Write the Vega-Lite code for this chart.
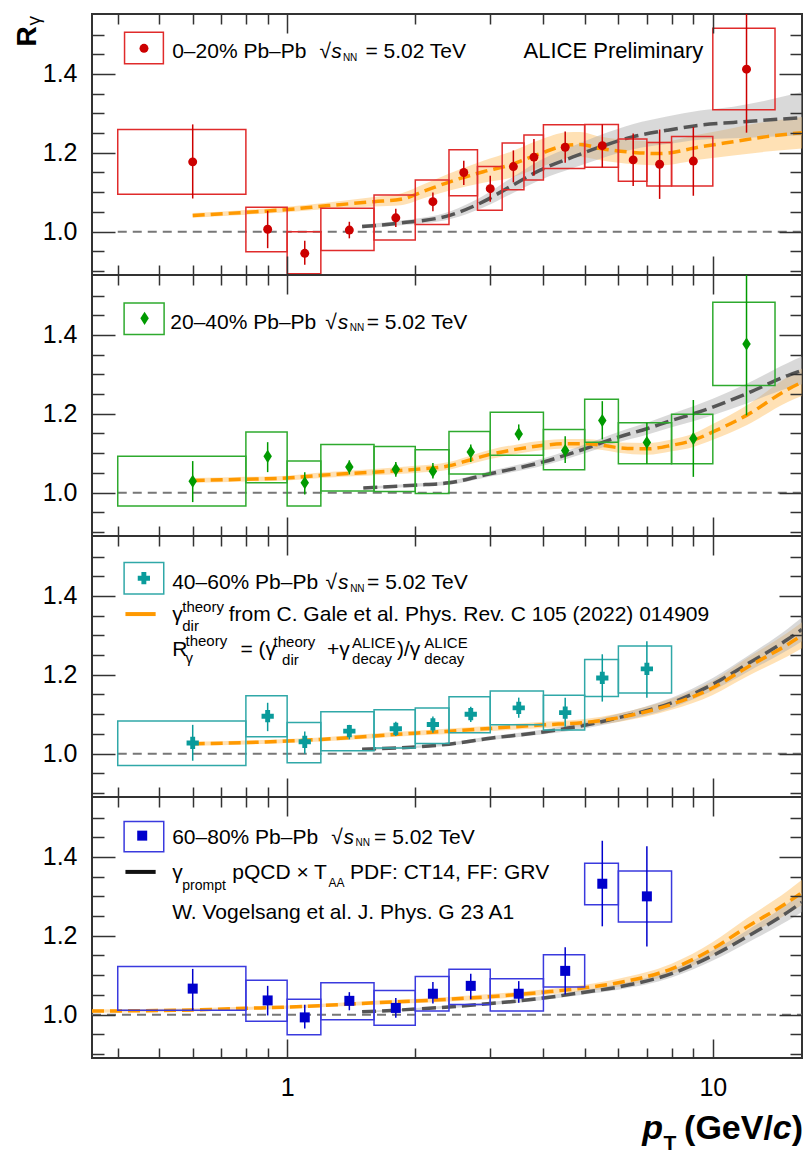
{
"$schema":"https://vega.github.io/schema/vega-lite/v6.json",
"padding":{"left":12,"top":12,"right":5,"bottom":5},
"background":"white",
"config":{"font":"Liberation Sans","view":{"stroke":"#333333","strokeWidth":2},"axis":{"tickColor":"#333333","tickWidth":1.5,"labelColor":"#000000","labelFont":"Liberation Sans","labelFontSize":25,"minExtent":0},"text":{"font":"Liberation Sans","color":"#000000"}},
"datasets":{
"meas":[
{"p":1,"pt":0.6,"y":1.177,"elo":1.084,"ehi":1.272,"xlo":0.4,"xhi":0.8,"blo":1.095,"bhi":1.259},
{"p":1,"pt":0.9,"y":1.006,"elo":0.958,"ehi":1.053,"xlo":0.8,"xhi":1.0,"blo":0.949,"bhi":1.062},
{"p":1,"pt":1.1,"y":0.945,"elo":0.916,"ehi":0.977,"xlo":1.0,"xhi":1.2,"blo":0.893,"bhi":1.0},
{"p":1,"pt":1.4,"y":1.004,"elo":0.983,"ehi":1.025,"xlo":1.2,"xhi":1.6,"blo":0.952,"bhi":1.059},
{"p":1,"pt":1.8,"y":1.035,"elo":1.012,"ehi":1.058,"xlo":1.6,"xhi":2.0,"blo":0.979,"bhi":1.093},
{"p":1,"pt":2.2,"y":1.076,"elo":1.052,"ehi":1.099,"xlo":2.0,"xhi":2.4,"blo":1.018,"bhi":1.131},
{"p":1,"pt":2.6,"y":1.150,"elo":1.118,"ehi":1.180,"xlo":2.4,"xhi":2.8,"blo":1.091,"bhi":1.208},
{"p":1,"pt":3.0,"y":1.109,"elo":1.076,"ehi":1.142,"xlo":2.8,"xhi":3.2,"blo":1.054,"bhi":1.165},
{"p":1,"pt":3.4,"y":1.165,"elo":1.125,"ehi":1.206,"xlo":3.2,"xhi":3.6,"blo":1.106,"bhi":1.225},
{"p":1,"pt":3.8,"y":1.189,"elo":1.142,"ehi":1.235,"xlo":3.6,"xhi":4.0,"blo":1.131,"bhi":1.245},
{"p":1,"pt":4.5,"y":1.214,"elo":1.175,"ehi":1.254,"xlo":4.0,"xhi":5.0,"blo":1.160,"bhi":1.271},
{"p":1,"pt":5.5,"y":1.218,"elo":1.163,"ehi":1.272,"xlo":5.0,"xhi":6.0,"blo":1.163,"bhi":1.272},
{"p":1,"pt":6.5,"y":1.182,"elo":1.116,"ehi":1.249,"xlo":6.0,"xhi":7.0,"blo":1.128,"bhi":1.235},
{"p":1,"pt":7.5,"y":1.171,"elo":1.083,"ehi":1.259,"xlo":7.0,"xhi":8.0,"blo":1.116,"bhi":1.226},
{"p":1,"pt":9.0,"y":1.179,"elo":1.091,"ehi":1.265,"xlo":8.0,"xhi":10,"blo":1.116,"bhi":1.241},
{"p":1,"pt":12,"y":1.412,"elo":1.251,"ehi":1.6,"xlo":10,"xhi":14,"blo":1.309,"bhi":1.516},
{"p":2,"pt":0.6,"y":1.029,"elo":0.976,"ehi":1.080,"xlo":0.4,"xhi":0.8,"blo":0.966,"bhi":1.092},
{"p":2,"pt":0.9,"y":1.092,"elo":1.052,"ehi":1.128,"xlo":0.8,"xhi":1.0,"blo":1.025,"bhi":1.154},
{"p":2,"pt":1.1,"y":1.025,"elo":0.995,"ehi":1.052,"xlo":1.0,"xhi":1.2,"blo":0.966,"bhi":1.080},
{"p":2,"pt":1.4,"y":1.065,"elo":1.046,"ehi":1.082,"xlo":1.2,"xhi":1.6,"blo":1.004,"bhi":1.122},
{"p":2,"pt":1.8,"y":1.059,"elo":1.040,"ehi":1.078,"xlo":1.6,"xhi":2.0,"blo":1.003,"bhi":1.117},
{"p":2,"pt":2.2,"y":1.054,"elo":1.036,"ehi":1.075,"xlo":2.0,"xhi":2.4,"blo":0.998,"bhi":1.109},
{"p":2,"pt":2.7,"y":1.103,"elo":1.078,"ehi":1.122,"xlo":2.4,"xhi":3.0,"blo":1.047,"bhi":1.155},
{"p":2,"pt":3.5,"y":1.149,"elo":1.133,"ehi":1.173,"xlo":3.0,"xhi":4.0,"blo":1.095,"bhi":1.204},
{"p":2,"pt":4.5,"y":1.107,"elo":1.075,"ehi":1.143,"xlo":4.0,"xhi":5.0,"blo":1.058,"bhi":1.160},
{"p":2,"pt":5.5,"y":1.183,"elo":1.135,"ehi":1.232,"xlo":5.0,"xhi":6.0,"blo":1.128,"bhi":1.237},
{"p":2,"pt":7.0,"y":1.127,"elo":1.073,"ehi":1.177,"xlo":6.0,"xhi":8.0,"blo":1.073,"bhi":1.177},
{"p":2,"pt":9.0,"y":1.137,"elo":1.040,"ehi":1.235,"xlo":8.0,"xhi":10,"blo":1.073,"bhi":1.199},
{"p":2,"pt":12,"y":1.377,"elo":1.196,"ehi":1.6,"xlo":10,"xhi":14,"blo":1.272,"bhi":1.483},
{"p":3,"pt":0.6,"y":1.027,"elo":0.982,"ehi":1.073,"xlo":0.4,"xhi":0.8,"blo":0.970,"bhi":1.083},
{"p":3,"pt":0.9,"y":1.095,"elo":1.057,"ehi":1.129,"xlo":0.8,"xhi":1.0,"blo":1.043,"bhi":1.147},
{"p":3,"pt":1.1,"y":1.030,"elo":1.000,"ehi":1.056,"xlo":1.0,"xhi":1.2,"blo":0.977,"bhi":1.079},
{"p":3,"pt":1.4,"y":1.057,"elo":1.036,"ehi":1.073,"xlo":1.2,"xhi":1.6,"blo":1.007,"bhi":1.106},
{"p":3,"pt":1.8,"y":1.063,"elo":1.045,"ehi":1.081,"xlo":1.6,"xhi":2.0,"blo":1.014,"bhi":1.111},
{"p":3,"pt":2.2,"y":1.074,"elo":1.053,"ehi":1.094,"xlo":2.0,"xhi":2.4,"blo":1.026,"bhi":1.116},
{"p":3,"pt":2.7,"y":1.100,"elo":1.080,"ehi":1.119,"xlo":2.4,"xhi":3.0,"blo":1.053,"bhi":1.144},
{"p":3,"pt":3.5,"y":1.116,"elo":1.091,"ehi":1.142,"xlo":3.0,"xhi":4.0,"blo":1.073,"bhi":1.159},
{"p":3,"pt":4.5,"y":1.104,"elo":1.068,"ehi":1.142,"xlo":4.0,"xhi":5.0,"blo":1.060,"bhi":1.148},
{"p":3,"pt":5.5,"y":1.192,"elo":1.132,"ehi":1.252,"xlo":5.0,"xhi":6.0,"blo":1.145,"bhi":1.239},
{"p":3,"pt":7.0,"y":1.215,"elo":1.142,"ehi":1.285,"xlo":6.0,"xhi":8.0,"blo":1.154,"bhi":1.273},
{"p":4,"pt":0.6,"y":1.066,"elo":1.011,"ehi":1.116,"xlo":0.4,"xhi":0.8,"blo":1.011,"bhi":1.122},
{"p":4,"pt":0.9,"y":1.036,"elo":0.998,"ehi":1.073,"xlo":0.8,"xhi":1.0,"blo":0.983,"bhi":1.087},
{"p":4,"pt":1.1,"y":0.993,"elo":0.965,"ehi":1.025,"xlo":1.0,"xhi":1.2,"blo":0.949,"bhi":1.039},
{"p":4,"pt":1.4,"y":1.035,"elo":1.011,"ehi":1.057,"xlo":1.2,"xhi":1.6,"blo":0.987,"bhi":1.081},
{"p":4,"pt":1.8,"y":1.017,"elo":0.992,"ehi":1.042,"xlo":1.6,"xhi":2.0,"blo":0.973,"bhi":1.061},
{"p":4,"pt":2.2,"y":1.053,"elo":1.028,"ehi":1.083,"xlo":2.0,"xhi":2.4,"blo":1.009,"bhi":1.097},
{"p":4,"pt":2.7,"y":1.073,"elo":1.039,"ehi":1.104,"xlo":2.4,"xhi":3.0,"blo":1.026,"bhi":1.115},
{"p":4,"pt":3.5,"y":1.053,"elo":1.030,"ehi":1.085,"xlo":3.0,"xhi":4.0,"blo":1.009,"bhi":1.091},
{"p":4,"pt":4.5,"y":1.111,"elo":1.051,"ehi":1.171,"xlo":4.0,"xhi":5.0,"blo":1.070,"bhi":1.152},
{"p":4,"pt":5.5,"y":1.332,"elo":1.224,"ehi":1.441,"xlo":5.0,"xhi":6.0,"blo":1.279,"bhi":1.384},
{"p":4,"pt":7.0,"y":1.300,"elo":1.173,"ehi":1.427,"xlo":6.0,"xhi":8.0,"blo":1.235,"bhi":1.364}
],
"theo":[
{"p":1,"m":"g","pt":0.6,"y":1.041,"lo":1.035,"hi":1.047},
{"p":1,"m":"g","pt":0.8,"y":1.049,"lo":1.043,"hi":1.055},
{"p":1,"m":"g","pt":1.0,"y":1.056,"lo":1.049,"hi":1.063},
{"p":1,"m":"g","pt":1.25,"y":1.066,"lo":1.058,"hi":1.074},
{"p":1,"m":"g","pt":1.6,"y":1.076,"lo":1.064,"hi":1.088},
{"p":1,"m":"g","pt":1.85,"y":1.082,"lo":1.067,"hi":1.097},
{"p":1,"m":"g","pt":2.1,"y":1.103,"lo":1.085,"hi":1.121},
{"p":1,"m":"g","pt":2.42,"y":1.127,"lo":1.105,"hi":1.149},
{"p":1,"m":"g","pt":2.89,"y":1.152,"lo":1.124,"hi":1.180},
{"p":1,"m":"g","pt":3.34,"y":1.169,"lo":1.136,"hi":1.202},
{"p":1,"m":"g","pt":3.93,"y":1.198,"lo":1.163,"hi":1.233},
{"p":1,"m":"g","pt":4.54,"y":1.219,"lo":1.186,"hi":1.252},
{"p":1,"m":"g","pt":4.88,"y":1.221,"lo":1.189,"hi":1.253},
{"p":1,"m":"g","pt":5.44,"y":1.211,"lo":1.181,"hi":1.241},
{"p":1,"m":"g","pt":6.51,"y":1.201,"lo":1.171,"hi":1.231},
{"p":1,"m":"g","pt":7.52,"y":1.198,"lo":1.168,"hi":1.228},
{"p":1,"m":"g","pt":9.34,"y":1.215,"lo":1.183,"hi":1.247},
{"p":1,"m":"g","pt":11.17,"y":1.228,"lo":1.193,"hi":1.263},
{"p":1,"m":"g","pt":13.39,"y":1.241,"lo":1.203,"hi":1.279},
{"p":1,"m":"g","pt":16.2,"y":1.251,"lo":1.211,"hi":1.291},
{"p":1,"m":"v","pt":1.5,"y":1.013,"lo":1.008,"hi":1.018},
{"p":1,"m":"v","pt":1.85,"y":1.022,"lo":1.016,"hi":1.028},
{"p":1,"m":"v","pt":2.42,"y":1.042,"lo":1.032,"hi":1.052},
{"p":1,"m":"v","pt":2.89,"y":1.076,"lo":1.061,"hi":1.091},
{"p":1,"m":"v","pt":3.34,"y":1.114,"lo":1.094,"hi":1.134},
{"p":1,"m":"v","pt":3.93,"y":1.156,"lo":1.131,"hi":1.181},
{"p":1,"m":"v","pt":4.71,"y":1.190,"lo":1.162,"hi":1.218},
{"p":1,"m":"v","pt":5.44,"y":1.215,"lo":1.185,"hi":1.245},
{"p":1,"m":"v","pt":6.51,"y":1.241,"lo":1.209,"hi":1.273},
{"p":1,"m":"v","pt":7.8,"y":1.257,"lo":1.222,"hi":1.292},
{"p":1,"m":"v","pt":9.34,"y":1.270,"lo":1.233,"hi":1.307},
{"p":1,"m":"v","pt":11.17,"y":1.277,"lo":1.237,"hi":1.317},
{"p":1,"m":"v","pt":16.2,"y":1.289,"lo":1.244,"hi":1.354},
{"p":2,"m":"g","pt":0.6,"y":1.031,"lo":1.025,"hi":1.037},
{"p":2,"m":"g","pt":0.8,"y":1.034,"lo":1.028,"hi":1.040},
{"p":2,"m":"g","pt":1.0,"y":1.037,"lo":1.031,"hi":1.043},
{"p":2,"m":"g","pt":1.2,"y":1.044,"lo":1.037,"hi":1.051},
{"p":2,"m":"g","pt":1.6,"y":1.052,"lo":1.044,"hi":1.060},
{"p":2,"m":"g","pt":2.0,"y":1.059,"lo":1.050,"hi":1.068},
{"p":2,"m":"g","pt":2.4,"y":1.068,"lo":1.058,"hi":1.078},
{"p":2,"m":"g","pt":2.75,"y":1.086,"lo":1.075,"hi":1.097},
{"p":2,"m":"g","pt":3.0,"y":1.097,"lo":1.085,"hi":1.109},
{"p":2,"m":"g","pt":3.5,"y":1.111,"lo":1.099,"hi":1.123},
{"p":2,"m":"g","pt":4.0,"y":1.120,"lo":1.108,"hi":1.132},
{"p":2,"m":"g","pt":4.5,"y":1.124,"lo":1.112,"hi":1.136},
{"p":2,"m":"g","pt":5.0,"y":1.124,"lo":1.112,"hi":1.136},
{"p":2,"m":"g","pt":5.5,"y":1.120,"lo":1.108,"hi":1.132},
{"p":2,"m":"g","pt":6.0,"y":1.114,"lo":1.101,"hi":1.127},
{"p":2,"m":"g","pt":7.0,"y":1.111,"lo":1.096,"hi":1.126},
{"p":2,"m":"g","pt":8.0,"y":1.120,"lo":1.105,"hi":1.135},
{"p":2,"m":"g","pt":9.0,"y":1.133,"lo":1.116,"hi":1.150},
{"p":2,"m":"g","pt":10,"y":1.154,"lo":1.134,"hi":1.174},
{"p":2,"m":"g","pt":12,"y":1.196,"lo":1.171,"hi":1.221},
{"p":2,"m":"g","pt":15,"y":1.262,"lo":1.230,"hi":1.294},
{"p":2,"m":"g","pt":16.2,"y":1.280,"lo":1.245,"hi":1.315},
{"p":2,"m":"v","pt":1.51,"y":1.012,"lo":1.009,"hi":1.015},
{"p":2,"m":"v","pt":2.0,"y":1.019,"lo":1.015,"hi":1.023},
{"p":2,"m":"v","pt":2.4,"y":1.025,"lo":1.020,"hi":1.030},
{"p":2,"m":"v","pt":3.0,"y":1.048,"lo":1.041,"hi":1.055},
{"p":2,"m":"v","pt":4.0,"y":1.078,"lo":1.069,"hi":1.087},
{"p":2,"m":"v","pt":5.0,"y":1.111,"lo":1.100,"hi":1.122},
{"p":2,"m":"v","pt":6.0,"y":1.141,"lo":1.128,"hi":1.154},
{"p":2,"m":"v","pt":7.0,"y":1.162,"lo":1.147,"hi":1.177},
{"p":2,"m":"v","pt":8.0,"y":1.183,"lo":1.166,"hi":1.200},
{"p":2,"m":"v","pt":9.0,"y":1.200,"lo":1.181,"hi":1.219},
{"p":2,"m":"v","pt":10,"y":1.217,"lo":1.196,"hi":1.238},
{"p":2,"m":"v","pt":12,"y":1.251,"lo":1.226,"hi":1.276},
{"p":2,"m":"v","pt":15,"y":1.297,"lo":1.265,"hi":1.329},
{"p":2,"m":"v","pt":16.2,"y":1.310,"lo":1.275,"hi":1.345},
{"p":3,"m":"g","pt":0.6,"y":1.025,"lo":1.020,"hi":1.030},
{"p":3,"m":"g","pt":0.8,"y":1.028,"lo":1.023,"hi":1.033},
{"p":3,"m":"g","pt":1.0,"y":1.032,"lo":1.027,"hi":1.037},
{"p":3,"m":"g","pt":1.2,"y":1.036,"lo":1.031,"hi":1.041},
{"p":3,"m":"g","pt":1.6,"y":1.045,"lo":1.039,"hi":1.051},
{"p":3,"m":"g","pt":2.0,"y":1.052,"lo":1.046,"hi":1.058},
{"p":3,"m":"g","pt":2.4,"y":1.057,"lo":1.050,"hi":1.064},
{"p":3,"m":"g","pt":3.0,"y":1.064,"lo":1.057,"hi":1.071},
{"p":3,"m":"g","pt":4.0,"y":1.073,"lo":1.065,"hi":1.081},
{"p":3,"m":"g","pt":5.0,"y":1.079,"lo":1.070,"hi":1.088},
{"p":3,"m":"g","pt":6.0,"y":1.091,"lo":1.080,"hi":1.102},
{"p":3,"m":"g","pt":8.0,"y":1.125,"lo":1.111,"hi":1.139},
{"p":3,"m":"g","pt":10,"y":1.167,"lo":1.149,"hi":1.185},
{"p":3,"m":"g","pt":12,"y":1.218,"lo":1.195,"hi":1.241},
{"p":3,"m":"g","pt":15,"y":1.277,"lo":1.247,"hi":1.307},
{"p":3,"m":"g","pt":16.2,"y":1.300,"lo":1.267,"hi":1.333},
{"p":3,"m":"v","pt":1.5,"y":1.011,"lo":1.008,"hi":1.014},
{"p":3,"m":"v","pt":2.0,"y":1.017,"lo":1.014,"hi":1.020},
{"p":3,"m":"v","pt":2.4,"y":1.024,"lo":1.020,"hi":1.028},
{"p":3,"m":"v","pt":3.0,"y":1.039,"lo":1.034,"hi":1.044},
{"p":3,"m":"v","pt":4.0,"y":1.055,"lo":1.049,"hi":1.061},
{"p":3,"m":"v","pt":5.0,"y":1.072,"lo":1.064,"hi":1.080},
{"p":3,"m":"v","pt":6.0,"y":1.091,"lo":1.081,"hi":1.101},
{"p":3,"m":"v","pt":8.0,"y":1.129,"lo":1.116,"hi":1.142},
{"p":3,"m":"v","pt":10,"y":1.176,"lo":1.160,"hi":1.192},
{"p":3,"m":"v","pt":12,"y":1.226,"lo":1.206,"hi":1.246},
{"p":3,"m":"v","pt":15,"y":1.290,"lo":1.263,"hi":1.317},
{"p":3,"m":"v","pt":16.2,"y":1.315,"lo":1.285,"hi":1.345},
{"p":4,"m":"g","pt":0.348,"y":1.009,"lo":1.005,"hi":1.013},
{"p":4,"m":"g","pt":0.6,"y":1.012,"lo":1.008,"hi":1.016},
{"p":4,"m":"g","pt":0.8,"y":1.016,"lo":1.012,"hi":1.020},
{"p":4,"m":"g","pt":1.0,"y":1.019,"lo":1.015,"hi":1.023},
{"p":4,"m":"g","pt":1.6,"y":1.030,"lo":1.025,"hi":1.035},
{"p":4,"m":"g","pt":2.4,"y":1.039,"lo":1.033,"hi":1.045},
{"p":4,"m":"g","pt":4.0,"y":1.057,"lo":1.050,"hi":1.064},
{"p":4,"m":"g","pt":5.0,"y":1.068,"lo":1.060,"hi":1.076},
{"p":4,"m":"g","pt":6.0,"y":1.081,"lo":1.071,"hi":1.091},
{"p":4,"m":"g","pt":8.0,"y":1.116,"lo":1.103,"hi":1.129},
{"p":4,"m":"g","pt":10,"y":1.167,"lo":1.150,"hi":1.184},
{"p":4,"m":"g","pt":12,"y":1.222,"lo":1.200,"hi":1.244},
{"p":4,"m":"g","pt":15,"y":1.285,"lo":1.256,"hi":1.314},
{"p":4,"m":"g","pt":16.2,"y":1.310,"lo":1.278,"hi":1.342},
{"p":4,"m":"v","pt":1.5,"y":1.007,"lo":1.005,"hi":1.009},
{"p":4,"m":"v","pt":2.0,"y":1.014,"lo":1.011,"hi":1.017},
{"p":4,"m":"v","pt":3.0,"y":1.028,"lo":1.024,"hi":1.032},
{"p":4,"m":"v","pt":4.0,"y":1.042,"lo":1.037,"hi":1.047},
{"p":4,"m":"v","pt":5.0,"y":1.057,"lo":1.051,"hi":1.063},
{"p":4,"m":"v","pt":6.0,"y":1.070,"lo":1.063,"hi":1.077},
{"p":4,"m":"v","pt":8.0,"y":1.104,"lo":1.094,"hi":1.114},
{"p":4,"m":"v","pt":10,"y":1.150,"lo":1.137,"hi":1.163},
{"p":4,"m":"v","pt":12,"y":1.197,"lo":1.181,"hi":1.213},
{"p":4,"m":"v","pt":15,"y":1.260,"lo":1.238,"hi":1.282},
{"p":4,"m":"v","pt":16.2,"y":1.285,"lo":1.260,"hi":1.310}
]
},
"spacing":0,
"bounds":"flush",
"vconcat":[
{"width":710,"height":261,"resolve":{"axis":{"x":"independent","y":"independent"}},
"layer":[
{"data":{"values":[{}]},"mark":{"type":"rule","color":"#777777","strokeWidth":2,"strokeDash":[9,6]},"encoding":{"x":{"datum":0.4,"type":"quantitative","scale":{"type":"log","domain":[0.348,16.2]},"axis":null},"x2":{"datum":16.2},"y":{"datum":1,"type":"quantitative","scale":{"domain":[0.89,1.552]},"axis":null}}},
{"data":{"name":"theo"},"transform":[{"filter":"datum.p==1 && datum.m=='g'"}],"mark":{"type":"area","color":"#ffbd5c","opacity":0.45,"interpolate":"monotone","clip":true},"encoding":{"x":{"field":"pt","type":"quantitative","scale":{"type":"log","domain":[0.348,16.2]},"axis":{"orient":"bottom","values":[1,10],"tickSize":-19,"labels":false,"domain":false,"grid":false,"title":null,"zindex":1}},"y":{"field":"lo","type":"quantitative","scale":{"domain":[0.89,1.552]},"axis":{"orient":"left","values":[1,1.2,1.4],"tickSize":-23,"labels":false,"domain":false,"grid":false,"title":null,"zindex":1}},"y2":{"field":"hi"}}},
{"data":{"name":"theo"},"transform":[{"filter":"datum.p==1 && datum.m=='v'"}],"mark":{"type":"area","color":"#aaaaaa","opacity":0.45,"interpolate":"monotone","clip":true},"encoding":{"x":{"field":"pt","type":"quantitative","scale":{"type":"log","domain":[0.348,16.2]},"axis":{"orient":"bottom","values":[0.4,0.5,0.6,0.7,0.8,0.9,2,3,4,5,6,7,8,9],"tickSize":-10,"labels":false,"domain":false,"grid":false,"title":null,"zindex":1}},"y":{"field":"lo","type":"quantitative","scale":{"domain":[0.89,1.552]},"axis":{"orient":"left","values":[0.9,0.95,1.05,1.1,1.15,1.25,1.3,1.35,1.45,1.5],"tickSize":-12,"labels":false,"domain":false,"grid":false,"title":null,"zindex":1}},"y2":{"field":"hi"}}},
{"data":{"name":"theo"},"transform":[{"filter":"datum.p==1 && datum.m=='v'"}],"mark":{"type":"line","color":"#555555","strokeWidth":3.5,"strokeDash":[14,6],"interpolate":"monotone","clip":true},"encoding":{"x":{"field":"pt","type":"quantitative","scale":{"type":"log","domain":[0.348,16.2]},"axis":{"orient":"top","values":[1,10],"tickSize":-19,"labels":false,"domain":false,"grid":false,"title":null,"zindex":1}},"y":{"field":"y","type":"quantitative","scale":{"domain":[0.89,1.552]},"axis":{"orient":"right","values":[1,1.2,1.4],"tickSize":-23,"labels":false,"domain":false,"grid":false,"title":null,"zindex":1}}}},
{"data":{"name":"theo"},"transform":[{"filter":"datum.p==1 && datum.m=='g'"}],"mark":{"type":"line","color":"#ff9900","strokeWidth":3.5,"strokeDash":[12,6],"interpolate":"monotone","clip":true},"encoding":{"x":{"field":"pt","type":"quantitative","scale":{"type":"log","domain":[0.348,16.2]},"axis":{"orient":"top","values":[0.4,0.5,0.6,0.7,0.8,0.9,2,3,4,5,6,7,8,9],"tickSize":-10,"labels":false,"domain":false,"grid":false,"title":null,"zindex":1}},"y":{"field":"y","type":"quantitative","scale":{"domain":[0.89,1.552]},"axis":{"orient":"right","values":[0.9,0.95,1.05,1.1,1.15,1.25,1.3,1.35,1.45,1.5],"tickSize":-12,"labels":false,"domain":false,"grid":false,"title":null,"zindex":1}}}},
{"data":{"name":"meas"},"transform":[{"filter":"datum.p==1"}],"mark":{"type":"rect","filled":false,"color":"#e02b2b","strokeWidth":1.5,"clip":true},"encoding":{"x":{"field":"xlo","type":"quantitative","scale":{"type":"log","domain":[0.348,16.2]},"axis":null},"x2":{"field":"xhi"},"y":{"field":"blo","type":"quantitative","scale":{"domain":[0.89,1.552]},"axis":{"orient":"left","values":[1,1.2,1.4],"ticks":false,"labels":true,"labelPadding":15,"format":".1f","domain":false,"grid":false,"title":null}},"y2":{"field":"bhi"}}},
{"data":{"name":"meas"},"transform":[{"filter":"datum.p==1"}],"mark":{"type":"rule","color":"#cc0000","strokeWidth":1.5,"clip":true},"encoding":{"x":{"field":"pt","type":"quantitative","scale":{"type":"log","domain":[0.348,16.2]},"axis":null},"y":{"field":"elo","type":"quantitative","scale":{"domain":[0.89,1.552]},"axis":null},"y2":{"field":"ehi"}}},
{"data":{"name":"meas"},"transform":[{"filter":"datum.p==1"}],"mark":{"type":"point","filled":true,"opacity":1,"shape":"circle","size":80,"color":"#cc0000"},"encoding":{"x":{"field":"pt","type":"quantitative","scale":{"type":"log","domain":[0.348,16.2]},"axis":null},"y":{"field":"y","type":"quantitative","scale":{"domain":[0.89,1.552]},"axis":null}}},
{"data":{"values":[{}]},"mark":{"type":"rect","filled":false,"color":"#e02b2b","strokeWidth":1.5},"encoding":{"x":{"datum":0.415,"type":"quantitative","scale":{"type":"log","domain":[0.348,16.2]},"axis":null},"x2":{"datum":0.512},"y":{"datum":1.426,"type":"quantitative","scale":{"domain":[0.89,1.552]},"axis":null},"y2":{"datum":1.506}}},
{"data":{"values":[{}]},"mark":{"type":"point","filled":true,"opacity":1,"shape":"circle","size":80,"color":"#cc0000"},"encoding":{"x":{"datum":0.461,"type":"quantitative","scale":{"type":"log","domain":[0.348,16.2]},"axis":null},"y":{"datum":1.465,"type":"quantitative","scale":{"domain":[0.89,1.552]},"axis":null}}},
{"data":{"values":[{}]},"mark":{"type":"text","text":"0–20% Pb–Pb","fontSize":21,"align":"left","baseline":"alphabetic"},"encoding":{"x":{"datum":0.537,"type":"quantitative","scale":{"type":"log","domain":[0.348,16.2]},"axis":null},"y":{"datum":1.44,"type":"quantitative","scale":{"domain":[0.89,1.552]},"axis":null}}},
{"data":{"values":[{}]},"mark":{"type":"text","text":"√","fontSize":21,"align":"left","baseline":"alphabetic"},"encoding":{"x":{"datum":1.191,"type":"quantitative","scale":{"type":"log","domain":[0.348,16.2]},"axis":null},"y":{"datum":1.44,"type":"quantitative","scale":{"domain":[0.89,1.552]},"axis":null}}},
{"data":{"values":[{}]},"mark":{"type":"text","text":"s","fontSize":21,"fontStyle":"italic","align":"left","baseline":"alphabetic"},"encoding":{"x":{"datum":1.27,"type":"quantitative","scale":{"type":"log","domain":[0.348,16.2]},"axis":null},"y":{"datum":1.44,"type":"quantitative","scale":{"domain":[0.89,1.552]},"axis":null}}},
{"data":{"values":[{}]},"mark":{"type":"text","text":"NN","fontSize":10,"align":"left","baseline":"alphabetic"},"encoding":{"x":{"datum":1.352,"type":"quantitative","scale":{"type":"log","domain":[0.348,16.2]},"axis":null},"y":{"datum":1.434,"type":"quantitative","scale":{"domain":[0.89,1.552]},"axis":null}}},
{"data":{"values":[{}]},"mark":{"type":"text","text":"= 5.02 TeV","fontSize":21,"align":"left","baseline":"alphabetic"},"encoding":{"x":{"datum":1.527,"type":"quantitative","scale":{"type":"log","domain":[0.348,16.2]},"axis":null},"y":{"datum":1.44,"type":"quantitative","scale":{"domain":[0.89,1.552]},"axis":null}}},
{"data":{"values":[{}]},"mark":{"type":"text","text":"ALICE Preliminary","fontSize":22,"align":"left","baseline":"alphabetic"},"encoding":{"x":{"datum":3.593,"type":"quantitative","scale":{"type":"log","domain":[0.348,16.2]},"axis":null},"y":{"datum":1.44,"type":"quantitative","scale":{"domain":[0.89,1.552]},"axis":null}}},
{"data":{"values":[{}]},"mark":{"type":"text","text":"R","fontSize":28,"fontWeight":"bold","angle":270,"align":"left","baseline":"alphabetic"},"encoding":{"x":{"datum":0.2566,"type":"quantitative","scale":{"type":"log","domain":[0.348,16.2]},"axis":null},"y":{"datum":1.4695,"type":"quantitative","scale":{"domain":[0.89,1.552]},"axis":null}}},
{"data":{"values":[{}]},"mark":{"type":"text","text":"γ","fontSize":19,"angle":270,"align":"left","baseline":"alphabetic"},"encoding":{"x":{"datum":0.2627,"type":"quantitative","scale":{"type":"log","domain":[0.348,16.2]},"axis":null},"y":{"datum":1.523,"type":"quantitative","scale":{"domain":[0.89,1.552]},"axis":null}}}
]},
{"width":710,"height":261,"resolve":{"axis":{"x":"independent","y":"independent"}},
"layer":[
{"data":{"values":[{}]},"mark":{"type":"rule","color":"#777777","strokeWidth":2,"strokeDash":[9,6]},"encoding":{"x":{"datum":0.4,"type":"quantitative","scale":{"type":"log","domain":[0.348,16.2]},"axis":null},"x2":{"datum":16.2},"y":{"datum":1,"type":"quantitative","scale":{"domain":[0.89,1.552]},"axis":null}}},
{"data":{"name":"theo"},"transform":[{"filter":"datum.p==2 && datum.m=='g'"}],"mark":{"type":"area","color":"#ffbd5c","opacity":0.45,"interpolate":"monotone","clip":true},"encoding":{"x":{"field":"pt","type":"quantitative","scale":{"type":"log","domain":[0.348,16.2]},"axis":{"orient":"bottom","values":[1,10],"tickSize":-19,"labels":false,"domain":false,"grid":false,"title":null,"zindex":1}},"y":{"field":"lo","type":"quantitative","scale":{"domain":[0.89,1.552]},"axis":{"orient":"left","values":[1,1.2,1.4],"tickSize":-23,"labels":false,"domain":false,"grid":false,"title":null,"zindex":1}},"y2":{"field":"hi"}}},
{"data":{"name":"theo"},"transform":[{"filter":"datum.p==2 && datum.m=='v'"}],"mark":{"type":"area","color":"#aaaaaa","opacity":0.45,"interpolate":"monotone","clip":true},"encoding":{"x":{"field":"pt","type":"quantitative","scale":{"type":"log","domain":[0.348,16.2]},"axis":{"orient":"bottom","values":[0.4,0.5,0.6,0.7,0.8,0.9,2,3,4,5,6,7,8,9],"tickSize":-10,"labels":false,"domain":false,"grid":false,"title":null,"zindex":1}},"y":{"field":"lo","type":"quantitative","scale":{"domain":[0.89,1.552]},"axis":{"orient":"left","values":[0.9,0.95,1.05,1.1,1.15,1.25,1.3,1.35,1.45,1.5],"tickSize":-12,"labels":false,"domain":false,"grid":false,"title":null,"zindex":1}},"y2":{"field":"hi"}}},
{"data":{"name":"theo"},"transform":[{"filter":"datum.p==2 && datum.m=='v'"}],"mark":{"type":"line","color":"#555555","strokeWidth":3.5,"strokeDash":[14,6],"interpolate":"monotone","clip":true},"encoding":{"x":{"field":"pt","type":"quantitative","scale":{"type":"log","domain":[0.348,16.2]},"axis":{"orient":"top","values":[1,10],"tickSize":-19,"labels":false,"domain":false,"grid":false,"title":null,"zindex":1}},"y":{"field":"y","type":"quantitative","scale":{"domain":[0.89,1.552]},"axis":{"orient":"right","values":[1,1.2,1.4],"tickSize":-23,"labels":false,"domain":false,"grid":false,"title":null,"zindex":1}}}},
{"data":{"name":"theo"},"transform":[{"filter":"datum.p==2 && datum.m=='g'"}],"mark":{"type":"line","color":"#ff9900","strokeWidth":3.5,"strokeDash":[12,6],"interpolate":"monotone","clip":true},"encoding":{"x":{"field":"pt","type":"quantitative","scale":{"type":"log","domain":[0.348,16.2]},"axis":{"orient":"top","values":[0.4,0.5,0.6,0.7,0.8,0.9,2,3,4,5,6,7,8,9],"tickSize":-10,"labels":false,"domain":false,"grid":false,"title":null,"zindex":1}},"y":{"field":"y","type":"quantitative","scale":{"domain":[0.89,1.552]},"axis":{"orient":"right","values":[0.9,0.95,1.05,1.1,1.15,1.25,1.3,1.35,1.45,1.5],"tickSize":-12,"labels":false,"domain":false,"grid":false,"title":null,"zindex":1}}}},
{"data":{"name":"meas"},"transform":[{"filter":"datum.p==2"}],"mark":{"type":"rect","filled":false,"color":"#2eaa2e","strokeWidth":1.5,"clip":true},"encoding":{"x":{"field":"xlo","type":"quantitative","scale":{"type":"log","domain":[0.348,16.2]},"axis":null},"x2":{"field":"xhi"},"y":{"field":"blo","type":"quantitative","scale":{"domain":[0.89,1.552]},"axis":{"orient":"left","values":[1,1.2,1.4],"ticks":false,"labels":true,"labelPadding":15,"format":".1f","domain":false,"grid":false,"title":null}},"y2":{"field":"bhi"}}},
{"data":{"name":"meas"},"transform":[{"filter":"datum.p==2"}],"mark":{"type":"rule","color":"#009a00","strokeWidth":1.5,"clip":true},"encoding":{"x":{"field":"pt","type":"quantitative","scale":{"type":"log","domain":[0.348,16.2]},"axis":null},"y":{"field":"elo","type":"quantitative","scale":{"domain":[0.89,1.552]},"axis":null},"y2":{"field":"ehi"}}},
{"data":{"name":"meas"},"transform":[{"filter":"datum.p==2"}],"mark":{"type":"point","filled":true,"opacity":1,"shape":"M0,-1L0.65,0L0,1L-0.65,0Z","size":170,"color":"#009a00"},"encoding":{"x":{"field":"pt","type":"quantitative","scale":{"type":"log","domain":[0.348,16.2]},"axis":null},"y":{"field":"y","type":"quantitative","scale":{"domain":[0.89,1.552]},"axis":null}}},
{"data":{"values":[{}]},"mark":{"type":"rect","filled":false,"color":"#2eaa2e","strokeWidth":1.5},"encoding":{"x":{"datum":0.414,"type":"quantitative","scale":{"type":"log","domain":[0.348,16.2]},"axis":null},"x2":{"datum":0.514},"y":{"datum":1.401,"type":"quantitative","scale":{"domain":[0.89,1.552]},"axis":null},"y2":{"datum":1.481}}},
{"data":{"values":[{}]},"mark":{"type":"point","filled":true,"opacity":1,"shape":"M0,-1L0.65,0L0,1L-0.65,0Z","size":170,"color":"#009a00"},"encoding":{"x":{"datum":0.4625,"type":"quantitative","scale":{"type":"log","domain":[0.348,16.2]},"axis":null},"y":{"datum":1.442,"type":"quantitative","scale":{"domain":[0.89,1.552]},"axis":null}}},
{"data":{"values":[{}]},"mark":{"type":"text","text":"20–40% Pb–Pb","fontSize":21,"align":"left","baseline":"alphabetic"},"encoding":{"x":{"datum":0.5315,"type":"quantitative","scale":{"type":"log","domain":[0.348,16.2]},"axis":null},"y":{"datum":1.416,"type":"quantitative","scale":{"domain":[0.89,1.552]},"axis":null}}},
{"data":{"values":[{}]},"mark":{"type":"text","text":"√","fontSize":21,"align":"left","baseline":"alphabetic"},"encoding":{"x":{"datum":1.229,"type":"quantitative","scale":{"type":"log","domain":[0.348,16.2]},"axis":null},"y":{"datum":1.416,"type":"quantitative","scale":{"domain":[0.89,1.552]},"axis":null}}},
{"data":{"values":[{}]},"mark":{"type":"text","text":"s","fontSize":21,"fontStyle":"italic","align":"left","baseline":"alphabetic"},"encoding":{"x":{"datum":1.315,"type":"quantitative","scale":{"type":"log","domain":[0.348,16.2]},"axis":null},"y":{"datum":1.416,"type":"quantitative","scale":{"domain":[0.89,1.552]},"axis":null}}},
{"data":{"values":[{}]},"mark":{"type":"text","text":"NN","fontSize":10,"align":"left","baseline":"alphabetic"},"encoding":{"x":{"datum":1.404,"type":"quantitative","scale":{"type":"log","domain":[0.348,16.2]},"axis":null},"y":{"datum":1.41,"type":"quantitative","scale":{"domain":[0.89,1.552]},"axis":null}}},
{"data":{"values":[{}]},"mark":{"type":"text","text":"= 5.02 TeV","fontSize":21,"align":"left","baseline":"alphabetic"},"encoding":{"x":{"datum":1.538,"type":"quantitative","scale":{"type":"log","domain":[0.348,16.2]},"axis":null},"y":{"datum":1.416,"type":"quantitative","scale":{"domain":[0.89,1.552]},"axis":null}}}
]},
{"width":710,"height":261,"resolve":{"axis":{"x":"independent","y":"independent"}},
"layer":[
{"data":{"values":[{}]},"mark":{"type":"rule","color":"#777777","strokeWidth":2,"strokeDash":[9,6]},"encoding":{"x":{"datum":0.4,"type":"quantitative","scale":{"type":"log","domain":[0.348,16.2]},"axis":null},"x2":{"datum":16.2},"y":{"datum":1,"type":"quantitative","scale":{"domain":[0.89,1.552]},"axis":null}}},
{"data":{"name":"theo"},"transform":[{"filter":"datum.p==3 && datum.m=='g'"}],"mark":{"type":"area","color":"#ffbd5c","opacity":0.45,"interpolate":"monotone","clip":true},"encoding":{"x":{"field":"pt","type":"quantitative","scale":{"type":"log","domain":[0.348,16.2]},"axis":{"orient":"bottom","values":[1,10],"tickSize":-19,"labels":false,"domain":false,"grid":false,"title":null,"zindex":1}},"y":{"field":"lo","type":"quantitative","scale":{"domain":[0.89,1.552]},"axis":{"orient":"left","values":[1,1.2,1.4],"tickSize":-23,"labels":false,"domain":false,"grid":false,"title":null,"zindex":1}},"y2":{"field":"hi"}}},
{"data":{"name":"theo"},"transform":[{"filter":"datum.p==3 && datum.m=='v'"}],"mark":{"type":"area","color":"#aaaaaa","opacity":0.45,"interpolate":"monotone","clip":true},"encoding":{"x":{"field":"pt","type":"quantitative","scale":{"type":"log","domain":[0.348,16.2]},"axis":{"orient":"bottom","values":[0.4,0.5,0.6,0.7,0.8,0.9,2,3,4,5,6,7,8,9],"tickSize":-10,"labels":false,"domain":false,"grid":false,"title":null,"zindex":1}},"y":{"field":"lo","type":"quantitative","scale":{"domain":[0.89,1.552]},"axis":{"orient":"left","values":[0.9,0.95,1.05,1.1,1.15,1.25,1.3,1.35,1.45,1.5],"tickSize":-12,"labels":false,"domain":false,"grid":false,"title":null,"zindex":1}},"y2":{"field":"hi"}}},
{"data":{"name":"theo"},"transform":[{"filter":"datum.p==3 && datum.m=='v'"}],"mark":{"type":"line","color":"#555555","strokeWidth":3.5,"strokeDash":[14,6],"interpolate":"monotone","clip":true},"encoding":{"x":{"field":"pt","type":"quantitative","scale":{"type":"log","domain":[0.348,16.2]},"axis":{"orient":"top","values":[1,10],"tickSize":-19,"labels":false,"domain":false,"grid":false,"title":null,"zindex":1}},"y":{"field":"y","type":"quantitative","scale":{"domain":[0.89,1.552]},"axis":{"orient":"right","values":[1,1.2,1.4],"tickSize":-23,"labels":false,"domain":false,"grid":false,"title":null,"zindex":1}}}},
{"data":{"name":"theo"},"transform":[{"filter":"datum.p==3 && datum.m=='g'"}],"mark":{"type":"line","color":"#ff9900","strokeWidth":3.5,"strokeDash":[12,6],"interpolate":"monotone","clip":true},"encoding":{"x":{"field":"pt","type":"quantitative","scale":{"type":"log","domain":[0.348,16.2]},"axis":{"orient":"top","values":[0.4,0.5,0.6,0.7,0.8,0.9,2,3,4,5,6,7,8,9],"tickSize":-10,"labels":false,"domain":false,"grid":false,"title":null,"zindex":1}},"y":{"field":"y","type":"quantitative","scale":{"domain":[0.89,1.552]},"axis":{"orient":"right","values":[0.9,0.95,1.05,1.1,1.15,1.25,1.3,1.35,1.45,1.5],"tickSize":-12,"labels":false,"domain":false,"grid":false,"title":null,"zindex":1}}}},
{"data":{"name":"meas"},"transform":[{"filter":"datum.p==3"}],"mark":{"type":"rect","filled":false,"color":"#30a8a8","strokeWidth":1.5,"clip":true},"encoding":{"x":{"field":"xlo","type":"quantitative","scale":{"type":"log","domain":[0.348,16.2]},"axis":null},"x2":{"field":"xhi"},"y":{"field":"blo","type":"quantitative","scale":{"domain":[0.89,1.552]},"axis":{"orient":"left","values":[1,1.2,1.4],"ticks":false,"labels":true,"labelPadding":15,"format":".1f","domain":false,"grid":false,"title":null}},"y2":{"field":"bhi"}}},
{"data":{"name":"meas"},"transform":[{"filter":"datum.p==3"}],"mark":{"type":"rule","color":"#0a9b9b","strokeWidth":1.5,"clip":true},"encoding":{"x":{"field":"pt","type":"quantitative","scale":{"type":"log","domain":[0.348,16.2]},"axis":null},"y":{"field":"elo","type":"quantitative","scale":{"domain":[0.89,1.552]},"axis":null},"y2":{"field":"ehi"}}},
{"data":{"name":"meas"},"transform":[{"filter":"datum.p==3"}],"mark":{"type":"point","filled":true,"opacity":1,"shape":"cross","size":150,"color":"#0a9b9b"},"encoding":{"x":{"field":"pt","type":"quantitative","scale":{"type":"log","domain":[0.348,16.2]},"axis":null},"y":{"field":"y","type":"quantitative","scale":{"domain":[0.89,1.552]},"axis":null}}},
{"data":{"values":[{}]},"mark":{"type":"rect","filled":false,"color":"#30a8a8","strokeWidth":1.5},"encoding":{"x":{"datum":0.414,"type":"quantitative","scale":{"type":"log","domain":[0.348,16.2]},"axis":null},"x2":{"datum":0.513},"y":{"datum":1.405,"type":"quantitative","scale":{"domain":[0.89,1.552]},"axis":null},"y2":{"datum":1.485}}},
{"data":{"values":[{}]},"mark":{"type":"point","filled":true,"opacity":1,"shape":"cross","size":150,"color":"#0a9b9b"},"encoding":{"x":{"datum":0.4607,"type":"quantitative","scale":{"type":"log","domain":[0.348,16.2]},"axis":null},"y":{"datum":1.445,"type":"quantitative","scale":{"domain":[0.89,1.552]},"axis":null}}},
{"data":{"values":[{}]},"mark":{"type":"text","text":"40–60% Pb–Pb","fontSize":21,"align":"left","baseline":"alphabetic"},"encoding":{"x":{"datum":0.537,"type":"quantitative","scale":{"type":"log","domain":[0.348,16.2]},"axis":null},"y":{"datum":1.417,"type":"quantitative","scale":{"domain":[0.89,1.552]},"axis":null}}},
{"data":{"values":[{}]},"mark":{"type":"text","text":"√","fontSize":21,"align":"left","baseline":"alphabetic"},"encoding":{"x":{"datum":1.231,"type":"quantitative","scale":{"type":"log","domain":[0.348,16.2]},"axis":null},"y":{"datum":1.417,"type":"quantitative","scale":{"domain":[0.89,1.552]},"axis":null}}},
{"data":{"values":[{}]},"mark":{"type":"text","text":"s","fontSize":21,"fontStyle":"italic","align":"left","baseline":"alphabetic"},"encoding":{"x":{"datum":1.317,"type":"quantitative","scale":{"type":"log","domain":[0.348,16.2]},"axis":null},"y":{"datum":1.417,"type":"quantitative","scale":{"domain":[0.89,1.552]},"axis":null}}},
{"data":{"values":[{}]},"mark":{"type":"text","text":"NN","fontSize":10,"align":"left","baseline":"alphabetic"},"encoding":{"x":{"datum":1.406,"type":"quantitative","scale":{"type":"log","domain":[0.348,16.2]},"axis":null},"y":{"datum":1.411,"type":"quantitative","scale":{"domain":[0.89,1.552]},"axis":null}}},
{"data":{"values":[{}]},"mark":{"type":"text","text":"= 5.02 TeV","fontSize":21,"align":"left","baseline":"alphabetic"},"encoding":{"x":{"datum":1.541,"type":"quantitative","scale":{"type":"log","domain":[0.348,16.2]},"axis":null},"y":{"datum":1.417,"type":"quantitative","scale":{"domain":[0.89,1.552]},"axis":null}}},
{"data":{"values":[{}]},"mark":{"type":"rule","color":"#ff9900","strokeWidth":4},"encoding":{"x":{"datum":0.417,"type":"quantitative","scale":{"type":"log","domain":[0.348,16.2]},"axis":null},"x2":{"datum":0.491},"y":{"datum":1.354,"type":"quantitative","scale":{"domain":[0.89,1.552]},"axis":null}}},
{"data":{"values":[{}]},"mark":{"type":"text","text":"γ","fontSize":21,"align":"left","baseline":"alphabetic"},"encoding":{"x":{"datum":0.537,"type":"quantitative","scale":{"type":"log","domain":[0.348,16.2]},"axis":null},"y":{"datum":1.337,"type":"quantitative","scale":{"domain":[0.89,1.552]},"axis":null}}},
{"data":{"values":[{}]},"mark":{"type":"text","text":"theory","fontSize":15,"align":"left","baseline":"alphabetic"},"encoding":{"x":{"datum":0.567,"type":"quantitative","scale":{"type":"log","domain":[0.348,16.2]},"axis":null},"y":{"datum":1.36,"type":"quantitative","scale":{"domain":[0.89,1.552]},"axis":null}}},
{"data":{"values":[{}]},"mark":{"type":"text","text":"dir","fontSize":15,"align":"left","baseline":"alphabetic"},"encoding":{"x":{"datum":0.567,"type":"quantitative","scale":{"type":"log","domain":[0.348,16.2]},"axis":null},"y":{"datum":1.311,"type":"quantitative","scale":{"domain":[0.89,1.552]},"axis":null}}},
{"data":{"values":[{}]},"mark":{"type":"text","text":"from C. Gale et al. Phys. Rev. C 105 (2022) 014909","fontSize":21,"align":"left","baseline":"alphabetic"},"encoding":{"x":{"datum":0.729,"type":"quantitative","scale":{"type":"log","domain":[0.348,16.2]},"axis":null},"y":{"datum":1.337,"type":"quantitative","scale":{"domain":[0.89,1.552]},"axis":null}}},
{"data":{"values":[{}]},"mark":{"type":"text","text":"R","fontSize":21,"align":"left","baseline":"alphabetic"},"encoding":{"x":{"datum":0.537,"type":"quantitative","scale":{"type":"log","domain":[0.348,16.2]},"axis":null},"y":{"datum":1.248,"type":"quantitative","scale":{"domain":[0.89,1.552]},"axis":null}}},
{"data":{"values":[{}]},"mark":{"type":"text","text":"theory","fontSize":15,"align":"left","baseline":"alphabetic"},"encoding":{"x":{"datum":0.577,"type":"quantitative","scale":{"type":"log","domain":[0.348,16.2]},"axis":null},"y":{"datum":1.273,"type":"quantitative","scale":{"domain":[0.89,1.552]},"axis":null}}},
{"data":{"values":[{}]},"mark":{"type":"text","text":"γ","fontSize":15,"align":"left","baseline":"alphabetic"},"encoding":{"x":{"datum":0.577,"type":"quantitative","scale":{"type":"log","domain":[0.348,16.2]},"axis":null},"y":{"datum":1.231,"type":"quantitative","scale":{"domain":[0.89,1.552]},"axis":null}}},
{"data":{"values":[{}]},"mark":{"type":"text","text":"= (γ","fontSize":21,"align":"left","baseline":"alphabetic"},"encoding":{"x":{"datum":0.777,"type":"quantitative","scale":{"type":"log","domain":[0.348,16.2]},"axis":null},"y":{"datum":1.248,"type":"quantitative","scale":{"domain":[0.89,1.552]},"axis":null}}},
{"data":{"values":[{}]},"mark":{"type":"text","text":"theory","fontSize":15,"align":"left","baseline":"alphabetic"},"encoding":{"x":{"datum":0.929,"type":"quantitative","scale":{"type":"log","domain":[0.348,16.2]},"axis":null},"y":{"datum":1.27,"type":"quantitative","scale":{"domain":[0.89,1.552]},"axis":null}}},
{"data":{"values":[{}]},"mark":{"type":"text","text":"dir","fontSize":15,"align":"left","baseline":"alphabetic"},"encoding":{"x":{"datum":0.973,"type":"quantitative","scale":{"type":"log","domain":[0.348,16.2]},"axis":null},"y":{"datum":1.225,"type":"quantitative","scale":{"domain":[0.89,1.552]},"axis":null}}},
{"data":{"values":[{}]},"mark":{"type":"text","text":"+γ","fontSize":21,"align":"left","baseline":"alphabetic"},"encoding":{"x":{"datum":1.241,"type":"quantitative","scale":{"type":"log","domain":[0.348,16.2]},"axis":null},"y":{"datum":1.248,"type":"quantitative","scale":{"domain":[0.89,1.552]},"axis":null}}},
{"data":{"values":[{}]},"mark":{"type":"text","text":"ALICE","fontSize":15,"align":"left","baseline":"alphabetic"},"encoding":{"x":{"datum":1.421,"type":"quantitative","scale":{"type":"log","domain":[0.348,16.2]},"axis":null},"y":{"datum":1.267,"type":"quantitative","scale":{"domain":[0.89,1.552]},"axis":null}}},
{"data":{"values":[{}]},"mark":{"type":"text","text":"decay","fontSize":15,"align":"left","baseline":"alphabetic"},"encoding":{"x":{"datum":1.421,"type":"quantitative","scale":{"type":"log","domain":[0.348,16.2]},"axis":null},"y":{"datum":1.227,"type":"quantitative","scale":{"domain":[0.89,1.552]},"axis":null}}},
{"data":{"values":[{}]},"mark":{"type":"text","text":")/γ","fontSize":21,"align":"left","baseline":"alphabetic"},"encoding":{"x":{"datum":1.812,"type":"quantitative","scale":{"type":"log","domain":[0.348,16.2]},"axis":null},"y":{"datum":1.248,"type":"quantitative","scale":{"domain":[0.89,1.552]},"axis":null}}},
{"data":{"values":[{}]},"mark":{"type":"text","text":"ALICE","fontSize":15,"align":"left","baseline":"alphabetic"},"encoding":{"x":{"datum":2.1,"type":"quantitative","scale":{"type":"log","domain":[0.348,16.2]},"axis":null},"y":{"datum":1.267,"type":"quantitative","scale":{"domain":[0.89,1.552]},"axis":null}}},
{"data":{"values":[{}]},"mark":{"type":"text","text":"decay","fontSize":15,"align":"left","baseline":"alphabetic"},"encoding":{"x":{"datum":2.1,"type":"quantitative","scale":{"type":"log","domain":[0.348,16.2]},"axis":null},"y":{"datum":1.227,"type":"quantitative","scale":{"domain":[0.89,1.552]},"axis":null}}}
]},
{"width":710,"height":261,"resolve":{"axis":{"x":"independent","y":"independent"}},
"layer":[
{"data":{"values":[{}]},"mark":{"type":"rule","color":"#777777","strokeWidth":2,"strokeDash":[9,6]},"encoding":{"x":{"datum":0.348,"type":"quantitative","scale":{"type":"log","domain":[0.348,16.2]},"axis":null},"x2":{"datum":16.2},"y":{"datum":1,"type":"quantitative","scale":{"domain":[0.89,1.552]},"axis":null}}},
{"data":{"name":"theo"},"transform":[{"filter":"datum.p==4 && datum.m=='g'"}],"mark":{"type":"area","color":"#ffbd5c","opacity":0.45,"interpolate":"monotone","clip":true},"encoding":{"x":{"field":"pt","type":"quantitative","scale":{"type":"log","domain":[0.348,16.2]},"axis":{"orient":"bottom","values":[1,10],"tickSize":-19,"labels":false,"domain":false,"grid":false,"title":null,"zindex":1}},"y":{"field":"lo","type":"quantitative","scale":{"domain":[0.89,1.552]},"axis":{"orient":"left","values":[1,1.2,1.4],"tickSize":-23,"labels":false,"domain":false,"grid":false,"title":null,"zindex":1}},"y2":{"field":"hi"}}},
{"data":{"name":"theo"},"transform":[{"filter":"datum.p==4 && datum.m=='v'"}],"mark":{"type":"area","color":"#aaaaaa","opacity":0.45,"interpolate":"monotone","clip":true},"encoding":{"x":{"field":"pt","type":"quantitative","scale":{"type":"log","domain":[0.348,16.2]},"axis":{"orient":"bottom","values":[0.4,0.5,0.6,0.7,0.8,0.9,2,3,4,5,6,7,8,9],"tickSize":-10,"labels":false,"domain":false,"grid":false,"title":null,"zindex":1}},"y":{"field":"lo","type":"quantitative","scale":{"domain":[0.89,1.552]},"axis":{"orient":"left","values":[0.9,0.95,1.05,1.1,1.15,1.25,1.3,1.35,1.45,1.5],"tickSize":-12,"labels":false,"domain":false,"grid":false,"title":null,"zindex":1}},"y2":{"field":"hi"}}},
{"data":{"name":"theo"},"transform":[{"filter":"datum.p==4 && datum.m=='v'"}],"mark":{"type":"line","color":"#555555","strokeWidth":3.5,"strokeDash":[14,6],"interpolate":"monotone","clip":true},"encoding":{"x":{"field":"pt","type":"quantitative","scale":{"type":"log","domain":[0.348,16.2]},"axis":{"orient":"top","values":[1,10],"tickSize":-19,"labels":false,"domain":false,"grid":false,"title":null,"zindex":1}},"y":{"field":"y","type":"quantitative","scale":{"domain":[0.89,1.552]},"axis":{"orient":"right","values":[1,1.2,1.4],"tickSize":-23,"labels":false,"domain":false,"grid":false,"title":null,"zindex":1}}}},
{"data":{"name":"theo"},"transform":[{"filter":"datum.p==4 && datum.m=='g'"}],"mark":{"type":"line","color":"#ff9900","strokeWidth":3.5,"strokeDash":[12,6],"interpolate":"monotone","clip":true},"encoding":{"x":{"field":"pt","type":"quantitative","scale":{"type":"log","domain":[0.348,16.2]},"axis":{"orient":"top","values":[0.4,0.5,0.6,0.7,0.8,0.9,2,3,4,5,6,7,8,9],"tickSize":-10,"labels":false,"domain":false,"grid":false,"title":null,"zindex":1}},"y":{"field":"y","type":"quantitative","scale":{"domain":[0.89,1.552]},"axis":{"orient":"right","values":[0.9,0.95,1.05,1.1,1.15,1.25,1.3,1.35,1.45,1.5],"tickSize":-12,"labels":false,"domain":false,"grid":false,"title":null,"zindex":1}}}},
{"data":{"name":"meas"},"transform":[{"filter":"datum.p==4"}],"mark":{"type":"rect","filled":false,"color":"#3a3ade","strokeWidth":1.5,"clip":true},"encoding":{"x":{"field":"xlo","type":"quantitative","scale":{"type":"log","domain":[0.348,16.2]},"axis":{"orient":"bottom","values":[1,10],"ticks":false,"labels":true,"labelPadding":17,"format":"~g","domain":false,"grid":false,"title":null}},"x2":{"field":"xhi"},"y":{"field":"blo","type":"quantitative","scale":{"domain":[0.89,1.552]},"axis":{"orient":"left","values":[1,1.2,1.4],"ticks":false,"labels":true,"labelPadding":15,"format":".1f","domain":false,"grid":false,"title":null}},"y2":{"field":"bhi"}}},
{"data":{"name":"meas"},"transform":[{"filter":"datum.p==4"}],"mark":{"type":"rule","color":"#0000cc","strokeWidth":1.5,"clip":true},"encoding":{"x":{"field":"pt","type":"quantitative","scale":{"type":"log","domain":[0.348,16.2]},"axis":null},"y":{"field":"elo","type":"quantitative","scale":{"domain":[0.89,1.552]},"axis":null},"y2":{"field":"ehi"}}},
{"data":{"name":"meas"},"transform":[{"filter":"datum.p==4"}],"mark":{"type":"point","filled":true,"opacity":1,"shape":"square","size":100,"color":"#0000cc"},"encoding":{"x":{"field":"pt","type":"quantitative","scale":{"type":"log","domain":[0.348,16.2]},"axis":null},"y":{"field":"y","type":"quantitative","scale":{"domain":[0.89,1.552]},"axis":null}}},
{"data":{"values":[{}]},"mark":{"type":"rect","filled":false,"color":"#3a3ade","strokeWidth":1.5},"encoding":{"x":{"datum":0.414,"type":"quantitative","scale":{"type":"log","domain":[0.348,16.2]},"axis":null},"x2":{"datum":0.513},"y":{"datum":1.413,"type":"quantitative","scale":{"domain":[0.89,1.552]},"axis":null},"y2":{"datum":1.49}}},
{"data":{"values":[{}]},"mark":{"type":"point","filled":true,"opacity":1,"shape":"square","size":100,"color":"#0000cc"},"encoding":{"x":{"datum":0.4566,"type":"quantitative","scale":{"type":"log","domain":[0.348,16.2]},"axis":null},"y":{"datum":1.454,"type":"quantitative","scale":{"domain":[0.89,1.552]},"axis":null}}},
{"data":{"values":[{}]},"mark":{"type":"text","text":"60–80% Pb–Pb","fontSize":21,"align":"left","baseline":"alphabetic"},"encoding":{"x":{"datum":0.537,"type":"quantitative","scale":{"type":"log","domain":[0.348,16.2]},"axis":null},"y":{"datum":1.434,"type":"quantitative","scale":{"domain":[0.89,1.552]},"axis":null}}},
{"data":{"values":[{}]},"mark":{"type":"text","text":"√","fontSize":21,"align":"left","baseline":"alphabetic"},"encoding":{"x":{"datum":1.27,"type":"quantitative","scale":{"type":"log","domain":[0.348,16.2]},"axis":null},"y":{"datum":1.434,"type":"quantitative","scale":{"domain":[0.89,1.552]},"axis":null}}},
{"data":{"values":[{}]},"mark":{"type":"text","text":"s","fontSize":21,"fontStyle":"italic","align":"left","baseline":"alphabetic"},"encoding":{"x":{"datum":1.356,"type":"quantitative","scale":{"type":"log","domain":[0.348,16.2]},"axis":null},"y":{"datum":1.434,"type":"quantitative","scale":{"domain":[0.89,1.552]},"axis":null}}},
{"data":{"values":[{}]},"mark":{"type":"text","text":"NN","fontSize":10,"align":"left","baseline":"alphabetic"},"encoding":{"x":{"datum":1.447,"type":"quantitative","scale":{"type":"log","domain":[0.348,16.2]},"axis":null},"y":{"datum":1.428,"type":"quantitative","scale":{"domain":[0.89,1.552]},"axis":null}}},
{"data":{"values":[{}]},"mark":{"type":"text","text":"= 5.02 TeV","fontSize":21,"align":"left","baseline":"alphabetic"},"encoding":{"x":{"datum":1.6,"type":"quantitative","scale":{"type":"log","domain":[0.348,16.2]},"axis":null},"y":{"datum":1.434,"type":"quantitative","scale":{"domain":[0.89,1.552]},"axis":null}}},
{"data":{"values":[{}]},"mark":{"type":"rule","color":"#111111","strokeWidth":4},"encoding":{"x":{"datum":0.417,"type":"quantitative","scale":{"type":"log","domain":[0.348,16.2]},"axis":null},"x2":{"datum":0.491},"y":{"datum":1.362,"type":"quantitative","scale":{"domain":[0.89,1.552]},"axis":null}}},
{"data":{"values":[{}]},"mark":{"type":"text","text":"γ","fontSize":21,"align":"left","baseline":"alphabetic"},"encoding":{"x":{"datum":0.537,"type":"quantitative","scale":{"type":"log","domain":[0.348,16.2]},"axis":null},"y":{"datum":1.345,"type":"quantitative","scale":{"domain":[0.89,1.552]},"axis":null}}},
{"data":{"values":[{}]},"mark":{"type":"text","text":"prompt","fontSize":14,"align":"left","baseline":"alphabetic"},"encoding":{"x":{"datum":0.567,"type":"quantitative","scale":{"type":"log","domain":[0.348,16.2]},"axis":null},"y":{"datum":1.317,"type":"quantitative","scale":{"domain":[0.89,1.552]},"axis":null}}},
{"data":{"values":[{}]},"mark":{"type":"text","text":"pQCD × T","fontSize":21,"align":"left","baseline":"alphabetic"},"encoding":{"x":{"datum":0.743,"type":"quantitative","scale":{"type":"log","domain":[0.348,16.2]},"axis":null},"y":{"datum":1.345,"type":"quantitative","scale":{"domain":[0.89,1.552]},"axis":null}}},
{"data":{"values":[{}]},"mark":{"type":"text","text":"AA","fontSize":12,"align":"left","baseline":"alphabetic"},"encoding":{"x":{"datum":1.25,"type":"quantitative","scale":{"type":"log","domain":[0.348,16.2]},"axis":null},"y":{"datum":1.323,"type":"quantitative","scale":{"domain":[0.89,1.552]},"axis":null}}},
{"data":{"values":[{}]},"mark":{"type":"text","text":"PDF: CT14, FF: GRV","fontSize":21,"align":"left","baseline":"alphabetic"},"encoding":{"x":{"datum":1.405,"type":"quantitative","scale":{"type":"log","domain":[0.348,16.2]},"axis":null},"y":{"datum":1.345,"type":"quantitative","scale":{"domain":[0.89,1.552]},"axis":null}}},
{"data":{"values":[{}]},"mark":{"type":"text","text":"W. Vogelsang et al. J. Phys. G 23 A1","fontSize":21,"align":"left","baseline":"alphabetic"},"encoding":{"x":{"datum":0.537,"type":"quantitative","scale":{"type":"log","domain":[0.348,16.2]},"axis":null},"y":{"datum":1.243,"type":"quantitative","scale":{"domain":[0.89,1.552]},"axis":null}}},
{"data":{"values":[{}]},"mark":{"type":"text","text":"p","fontSize":34,"fontWeight":"bold","fontStyle":"italic","align":"right","baseline":"alphabetic"},"encoding":{"x":{"datum":7.64,"type":"quantitative","scale":{"type":"log","domain":[0.348,16.2]},"axis":null},"y":{"datum":0.6845,"type":"quantitative","scale":{"domain":[0.89,1.552]},"axis":null}}},
{"data":{"values":[{}]},"mark":{"type":"text","text":"T","fontSize":21,"fontWeight":"bold","align":"left","baseline":"alphabetic"},"encoding":{"x":{"datum":7.66,"type":"quantitative","scale":{"type":"log","domain":[0.348,16.2]},"axis":null},"y":{"datum":0.657,"type":"quantitative","scale":{"domain":[0.89,1.552]},"axis":null}}},
{"data":{"values":[{}]},"mark":{"type":"text","text":"(GeV/","fontSize":34,"fontWeight":"bold","align":"right","baseline":"alphabetic"},"encoding":{"x":{"datum":13.84,"type":"quantitative","scale":{"type":"log","domain":[0.348,16.2]},"axis":null},"y":{"datum":0.6845,"type":"quantitative","scale":{"domain":[0.89,1.552]},"axis":null}}},
{"data":{"values":[{}]},"mark":{"type":"text","text":"c","fontSize":34,"fontWeight":"bold","fontStyle":"italic","align":"right","baseline":"alphabetic"},"encoding":{"x":{"datum":15.32,"type":"quantitative","scale":{"type":"log","domain":[0.348,16.2]},"axis":null},"y":{"datum":0.6845,"type":"quantitative","scale":{"domain":[0.89,1.552]},"axis":null}}},
{"data":{"values":[{}]},"mark":{"type":"text","text":")","fontSize":34,"fontWeight":"bold","align":"right","baseline":"alphabetic"},"encoding":{"x":{"datum":16.29,"type":"quantitative","scale":{"type":"log","domain":[0.348,16.2]},"axis":null},"y":{"datum":0.6845,"type":"quantitative","scale":{"domain":[0.89,1.552]},"axis":null}}}
]}
]
}
